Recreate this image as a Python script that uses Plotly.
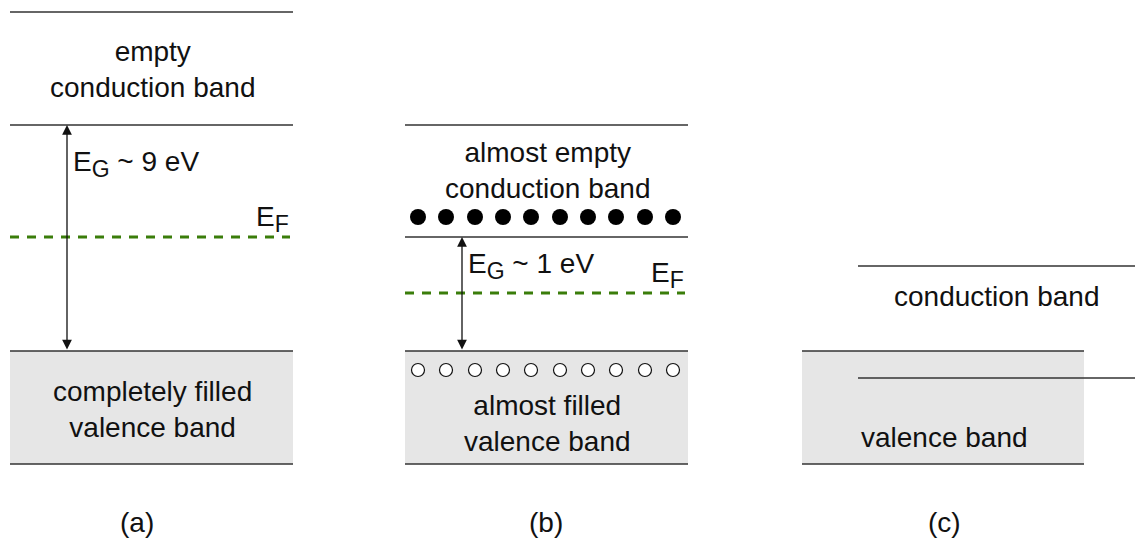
import plotly.graph_objects as go

W, H = 1135, 555

# ---- data (diagram coordinates: x in px-like units, y = energy axis, up = higher) ----
panel_labels = ["(a)", "(b)", "(c)"]
panel_left = [10, 405, 802]
panel_right = [293, 688, 1084]
label_x = [137, 546, 944]

# band edges (y measured upward from bottom of canvas)
cond_top = [543, 430, 289]
cond_bottom = [430, 318, None]
val_top = [204, 204, 204]
val_bottom = [91, 91, 91]
fermi = [318, 262, None]
SUB = '<sub><span style="font-size:23px">{}</span></sub>'
gap_text = ["E" + SUB.format("G") + " ~ 9 eV", "E" + SUB.format("G") + " ~ 1 eV", None]
gap_text_y = [391, 289, None]
arrow_x = [67, 462, None]
fermi_text = "E" + SUB.format("F")

cond_text = ["empty<br>conduction band", "almost empty<br>conduction band", "conduction band"]
cond_text_x = [153, 548, 997]
cond_text_y = [486, 385, 259]
val_text = ["completely filled<br>valence band", "almost filled<br>valence band", "valence band"]
val_text_x = [152, 547, 944]
val_text_y = [146, 132, 118]

# carriers in panel (b)
electron_x = [418, 446, 475, 503, 531, 560, 588, 616, 645, 673]
electron_y = [338] * 10
hole_x = [418, 446, 475, 503, 531, 560, 588, 616, 645, 673]
hole_y = [185] * 10

# panel (c) overlapping bands
c_cond_x = [858, 1135]
c_cond_top = 289
c_cond_bottom = 177

LINE = "#333333"
FILL = "#e6e6e6"
GREEN = "#3a7d0a"
FONT = "Liberation Sans, Arial, sans-serif"
FS = 28

fig = go.Figure()
shapes = []
annotations = []

def hline(x0, x1, y, color=LINE, width=1.5, dash=None):
    fig.add_trace(go.Scatter(x=[x0, x1], y=[y, y], mode="lines",
                             line=dict(color=color, width=width, dash=dash),
                             hoverinfo="skip", showlegend=False))

for i in range(3):
    L, R = panel_left[i], panel_right[i]
    shapes.append(dict(type="rect", x0=L, x1=R, y0=val_bottom[i], y1=val_top[i],
                       fillcolor=FILL, line=dict(width=0), layer="below"))
    hline(L, R, val_top[i])
    hline(L, R, val_bottom[i])
    if i < 2:
        hline(L, R, cond_top[i])
        hline(L, R, cond_bottom[i])
        hline(L, R - 3, fermi[i], color=GREEN, width=3, dash="9px,8px")
        annotations.append(dict(x=R - 2, y=fermi[i] - 2, text=fermi_text, showarrow=False,
                                xanchor="right", yanchor="bottom", font=dict(size=FS)))
        annotations.append(dict(x=arrow_x[i], y=cond_bottom[i], ax=arrow_x[i], ay=val_top[i],
                                xref="x", yref="y", axref="x", ayref="y", text="",
                                showarrow=True, arrowhead=2, arrowside="end+start",
                                arrowsize=1.5, arrowwidth=1.3, arrowcolor="#111",
                                font=dict(size=FS)))
        annotations.append(dict(x=arrow_x[i] + 4, y=gap_text_y[i], text=gap_text[i],
                                showarrow=False, xanchor="left", yanchor="middle",
                                font=dict(size=FS)))
    annotations.append(dict(x=label_x[i], y=33, text=panel_labels[i], showarrow=False,
                            xanchor="center", yanchor="middle", font=dict(size=FS)))
    annotations.append(dict(x=cond_text_x[i], y=cond_text_y[i], text=cond_text[i],
                            showarrow=False, font=dict(size=FS)))
    annotations.append(dict(x=val_text_x[i], y=val_text_y[i], text=val_text[i],
                            showarrow=False, font=dict(size=FS)))

# panel (c) overlapping conduction band edges
hline(c_cond_x[0], c_cond_x[1], c_cond_top)
hline(c_cond_x[0], c_cond_x[1], c_cond_bottom)

# electrons and holes
fig.add_trace(go.Scatter(x=electron_x, y=electron_y, mode="markers",
                         marker=dict(size=16, color="#000000"),
                         hoverinfo="skip", showlegend=False))
fig.add_trace(go.Scatter(x=hole_x, y=hole_y, mode="markers",
                         marker=dict(size=13, color="#ffffff", line=dict(color="#111", width=1.2)),
                         hoverinfo="skip", showlegend=False))

fig.update_layout(
    width=W, height=H,
    margin=dict(l=0, r=0, t=0, b=0),
    paper_bgcolor="white", plot_bgcolor="white",
    font=dict(family=FONT, size=FS, color="#111"),
    shapes=shapes, annotations=annotations,
    xaxis=dict(range=[0, W], visible=False, fixedrange=True),
    yaxis=dict(range=[0, H], visible=False, fixedrange=True),
)

fig.write_html("out.html")
